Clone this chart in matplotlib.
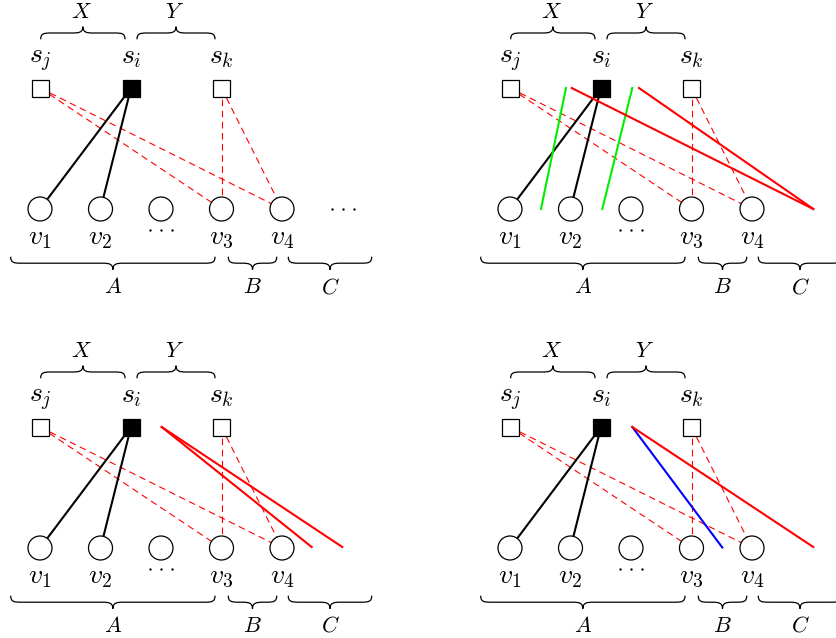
import matplotlib
matplotlib.use("Agg")
import matplotlib.pyplot as plt
from matplotlib.patches import Rectangle, Circle, PathPatch
from matplotlib.path import Path

plt.rcParams["mathtext.fontset"] = "cm"

# top row nodes (s_j, s_i, s_k), bottom row nodes (v1, v2, ..., v3, v4)
top_x = [40, 131, 221.5]
top_labels = [r"$s_j$", r"$s_i$", r"$s_k$"]
top_fill = ["white", "black", "white"]
top_y = 88

bot_x = [40, 100.5, 161, 221.5, 282]
bot_labels = [r"$v_1$", r"$v_2$", "", r"$v_3$", r"$v_4$"]
bot_y = 209

# edges (top index, bottom index)
solid_edges = [(1, 0), (1, 1)]
dashed_edges = [(0, 3), (0, 4), (2, 3), (2, 4)]

# braces: (x0, x1, label)
upper_braces = [(40.7, 125, r"$X$"), (137, 215, r"$Y$")]
lower_braces = [(10.7, 215, r"$A$"), (228.3, 276.7, r"$B$"), (288.3, 371.7, r"$C$")]

# "..." groups: (x centre, y centre), dot spacing
dots_under = (161, 230)
dots_right = (343, 209)
dot_gap = 11.3

# panel offsets in pixels
panel_dx = [0, 470, 0, 470]
panel_dy = [0, 0, 339, 339]
panel_right_dots = [True, False, False, False]

# extra lines drawn in each panel: (color, x0, y0, x1, y1)
panel_extra = [
    [],
    [("#00ee00", 96, 88, 71, 209),
     ("#00ee00", 162.3, 88, 132.3, 209),
     ("red", 101.7, 88, 343.3, 209),
     ("red", 169, 88, 343.3, 209)],
    [("red", 161.7, 88, 311.7, 208),
     ("red", 161.7, 88, 342.3, 208)],
    [("blue", 162.3, 88, 252.3, 208.5),
     ("red", 162.3, 88, 343.3, 208)],
]


def brace(ax, x0, x1, y0, a, d):
    # curly brace from x0 to x1, ends at y0, tip at y0 + d*a
    xm = (x0 + x1) / 2
    h = a / 2
    r = 10
    verts = [
        (x0, y0),
        (x0, y0 + d * h * 0.9), (x0 + r * 0.3, y0 + d * h), (x0 + r, y0 + d * h),
        (xm - r, y0 + d * h),
        (xm - r * 0.4, y0 + d * h), (xm, y0 + d * h * 1.1), (xm, y0 + d * a),
        (xm, y0 + d * h * 1.1), (xm + r * 0.4, y0 + d * h), (xm + r, y0 + d * h),
        (x1 - r, y0 + d * h),
        (x1 - r * 0.3, y0 + d * h), (x1, y0 + d * h * 0.9), (x1, y0),
    ]
    codes = [Path.MOVETO] + [Path.CURVE4] * 3 + [Path.LINETO] + [Path.CURVE4] * 6 \
        + [Path.LINETO] + [Path.CURVE4] * 3
    ax.add_patch(PathPatch(Path(verts, codes), fill=False, lw=0.9, color="black"))


def dots(ax, x, y):
    ax.plot([x - dot_gap, x, x + dot_gap], [y, y, y], ls="none", marker="o",
            ms=1.7, mew=0, color="black", zorder=3)


fig = plt.figure(figsize=(8.36, 6.38), dpi=100)
ax = fig.add_axes([0, 0, 1, 1])
ax.set_xlim(0, 836)
ax.set_ylim(638, 0)
ax.axis("off")

sq = 17
rad = 12
for p in range(4):
    ox, oy = panel_dx[p], panel_dy[p]

    for i, j in solid_edges:
        ax.plot([top_x[i] + ox, bot_x[j] + ox], [top_y + oy, bot_y + oy],
                color="black", lw=1.5, zorder=2)
    for i, j in dashed_edges:
        ax.plot([top_x[i] + ox, bot_x[j] + ox], [top_y + oy, bot_y + oy],
                color="red", lw=0.8, dashes=(6, 4), zorder=1)

    for k in range(3):
        ax.add_patch(Rectangle((top_x[k] + ox - sq / 2, top_y + oy - sq / 2), sq, sq,
                               facecolor=top_fill[k], edgecolor="black", lw=0.9, zorder=3))
        ax.text(top_x[k] + ox, top_y + oy - 25, top_labels[k], fontsize=20,
                ha="center", va="baseline")
    for k in range(5):
        ax.add_patch(Circle((bot_x[k] + ox, bot_y + oy), rad, facecolor="white",
                            edgecolor="black", lw=0.9, zorder=3))
        if bot_labels[k]:
            ax.text(bot_x[k] + ox, bot_y + oy + 35, bot_labels[k], fontsize=20,
                    ha="center", va="baseline")
    dots(ax, dots_under[0] + ox, dots_under[1] + oy)
    if panel_right_dots[p]:
        dots(ax, dots_right[0] + ox, dots_right[1] + oy)

    for x0, x1, lab in upper_braces:
        brace(ax, x0 + ox, x1 + ox, 39.3 + oy, 12.6, -1)
        ax.text((x0 + x1) / 2 + ox - 1.5, 12 + oy, lab, fontsize=16,
                ha="center", va="center")
    for x0, x1, lab in lower_braces:
        brace(ax, x0 + ox, x1 + ox, 256.7 + oy, 13, 1)
        ax.text((x0 + x1) / 2 + ox, 287 + oy, lab, fontsize=16,
                ha="center", va="center")

    for col, x0, y0, x1, y1 in panel_extra[p]:
        ax.plot([x0 + ox, x1 + ox], [y0 + oy, y1 + oy], color=col, lw=1.5, zorder=4)

fig.savefig("out.png", dpi=100)
